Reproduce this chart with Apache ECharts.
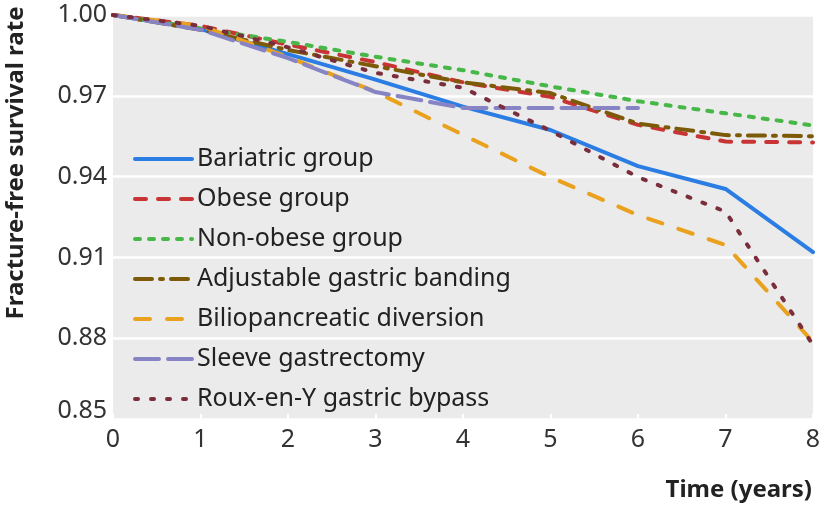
<!DOCTYPE html>
<html>
<head>
<meta charset="utf-8">
<script src="https://cdn.jsdelivr.net/npm/echarts@6/dist/echarts.min.js"></script>
<style>html,body{margin:0;padding:0;background:#fff}#c{width:824px;height:508px}</style>
</head>
<body>
<div id="c"></div>
<script>
const years = [0, 1, 2, 3, 4, 5, 6, 7, 8];
const bariatric = [1.000, 0.9948, 0.9855, 0.976, 0.966, 0.9573, 0.9439, 0.9354, 0.912];
const obese = [1.000, 0.996, 0.989, 0.9825, 0.975, 0.9696, 0.9592, 0.953, 0.9527];
const nonObese = [1.000, 0.995, 0.990, 0.9845, 0.9795, 0.9735, 0.968, 0.9635, 0.959];
const banding = [1.000, 0.9945, 0.987, 0.981, 0.975, 0.971, 0.9597, 0.9554, 0.955];
const biliopancreatic = [1.000, 0.996, 0.9844, 0.9715, 0.9555, 0.9398, 0.9257, 0.9146, 0.8786];
const sleeve = [1.000, 0.9945, 0.984, 0.9714, 0.9655, 0.9655, 0.9655];
const roux = [1.000, 0.996, 0.988, 0.9785, 0.973, 0.957, 0.9398, 0.927, 0.8775];
const yTicks = [0.85, 0.88, 0.91, 0.94, 0.97, 1.00];

const FONT = '"Noto Sans", sans-serif';
function pairs(vals) { return vals.map((v, i) => [years[i], v]); }
function mk(name, vals, color, type, width) {
  return {
    name: name, type: 'line', data: pairs(vals), symbol: 'none', showSymbol: false,
    lineStyle: { color: color, width: width || 4, type: type, cap: 'round', join: 'round' },
    itemStyle: { color: color }, emphasis: { disabled: true }, animation: false
  };
}
const chart = echarts.init(document.getElementById('c'), null, { renderer: 'canvas' });
chart.setOption({
  animation: false,
  grid: { left: 113, right: 11, top: 15, bottom: 89, show: true, backgroundColor: '#ebebeb', borderWidth: 0 },
  xAxis: {
    type: 'value', min: 0, max: 8, interval: 1,
    axisLine: { show: false },
    axisTick: { show: true, inside: true, length: 5, lineStyle: { color: '#ffffff', width: 2 } },
    splitLine: { show: false },
    axisLabel: { fontFamily: FONT, fontSize: 25, color: '#333', margin: 8 }
  },
  yAxis: {
    type: 'value', min: yTicks[0], max: yTicks[yTicks.length - 1], interval: 0.03,
    axisLine: { show: false }, axisTick: { show: false },
    splitLine: { show: true, lineStyle: { color: '#ffffff', width: 2.5 } },
    axisLabel: {
      fontFamily: FONT, fontSize: 25, color: '#333', margin: 6,
      formatter: function (v) {
        const s = (Math.round(v * 100) / 100).toFixed(2);
        return Math.abs(v - 0.85) < 1e-6 ? '{lo|' + s + '}' : s;
      },
      rich: { lo: { fontFamily: FONT, fontSize: 25, color: '#333', padding: [0, 0, 16, 0] } }
    }
  },
  legend: {
    orient: 'vertical', left: 128, top: 139, itemWidth: 57, itemHeight: 14, itemGap: 10,
    itemStyle: { opacity: 0, borderWidth: 0 },
    lineStyle: { width: 4, cap: 'round' },
    textStyle: { fontFamily: FONT, fontSize: 25, color: '#222', lineHeight: 30 },
    selectedMode: false
  },
  graphic: [
    { type: 'text', x: 16, y: 163, rotation: Math.PI / 2,
      style: { text: 'Fracture-free survival rate', font: 'bold 24px "Noto Sans", sans-serif', fill: '#222', textAlign: 'center', textVerticalAlign: 'middle' } },
    { type: 'text', x: 812, y: 490,
      style: { text: 'Time (years)', font: 'bold 24px "Noto Sans", sans-serif', fill: '#222', textAlign: 'right', textVerticalAlign: 'middle' } }
  ],
  series: [
    mk('Bariatric group', bariatric, '#2b7de3', 'solid', 4),
    mk('Obese group', obese, '#c83434', [11, 12], 4),
    mk('Non-obese group', nonObese, '#47b847', [5, 9], 4),
    mk('Adjustable gastric banding', banding, '#7d5a08', [17, 8, 3, 8], 4),
    mk('Biliopancreatic diversion', biliopancreatic, '#e9a11e', [15, 17], 4),
    mk('Sleeve gastrectomy', sleeve, '#8784c6', [24, 9], 4),
    mk('Roux-en-Y gastric bypass', roux, '#7a2e3c', [3, 13], 4)
  ]
});
</script>
</body>
</html>
